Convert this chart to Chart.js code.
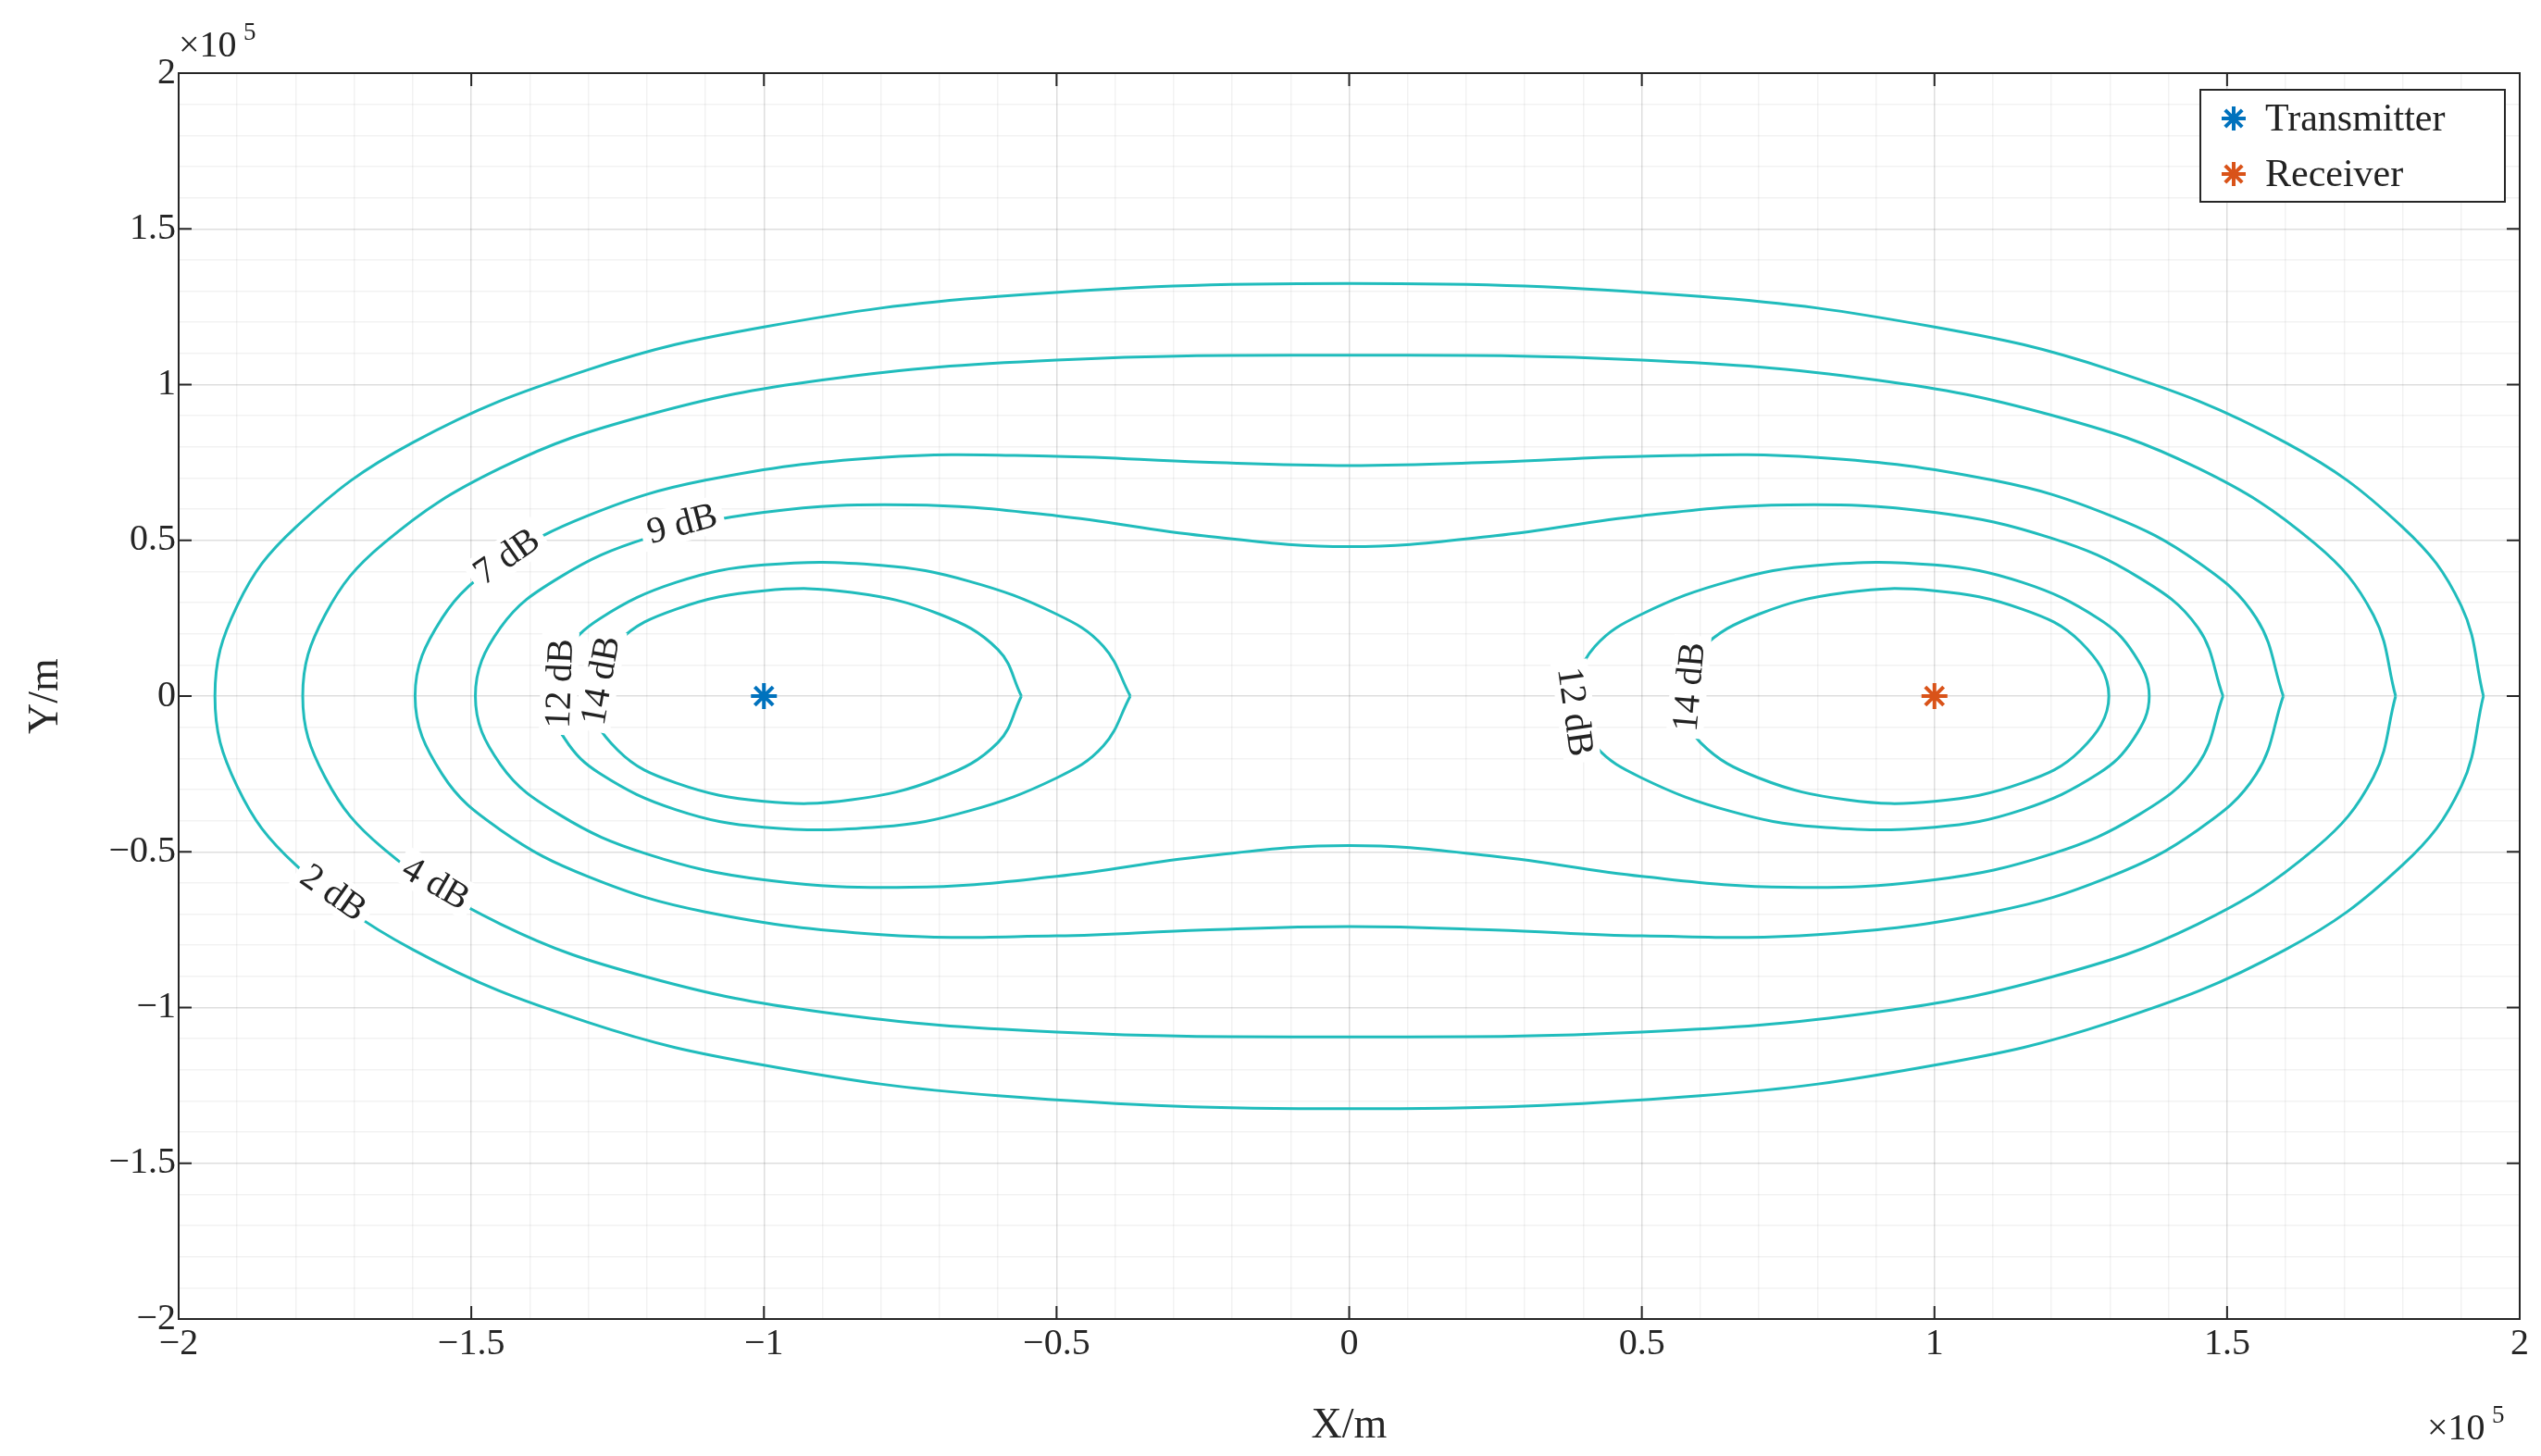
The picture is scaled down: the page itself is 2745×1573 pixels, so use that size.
<!DOCTYPE html>
<html>
<head>
<meta charset="utf-8">
<script src="https://cdn.jsdelivr.net/npm/chart.js@4.4.1/dist/chart.umd.min.js"></script>
<style>
  html, body { margin: 0; padding: 0; background: #fff; }
  #wrap { width: 2745px; height: 1573px; }
</style>
</head>
<body>
<div id="wrap"><canvas id="contourChart" width="2745" height="1573"></canvas></div>
<script>
// Values in units of 1e5 m. Upper-right half of each contour
// (outer contours: from x = xmax on the axis back to x = 0)
const c2dB_x = [1.938, 1.9, 1.8, 1.6, 1.3, 1.0, 0.6, 0];
const c2dB_y = [0, 0.29, 0.542, 0.814, 1.048, 1.185, 1.283, 1.325];
const c4dB_x = [1.788, 1.75, 1.65, 1.45, 1.2, 0.9, 0.5, 0];
const c4dB_y = [0, 0.26, 0.49, 0.732, 0.902, 1.015, 1.079, 1.094];
const c7dB_x = [1.596, 1.55, 1.45, 1.3, 1.1, 0.8, 0.5, 0.25, 0];
const c7dB_y = [0, 0.25, 0.43, 0.58, 0.693, 0.766, 0.770, 0.751, 0.740];
const c9dB_x = [1.493, 1.45, 1.35, 1.2, 1.0, 0.75, 0.5, 0.25, 0];
const c9dB_y = [0, 0.22, 0.38, 0.507, 0.59, 0.614, 0.579, 0.515, 0.48];
// inner loops around the receiver: from inner edge to outer edge
const c12dB_x = [0.374, 0.42, 0.5, 0.65, 0.8, 1.0, 1.15, 1.28, 1.34, 1.367];
const c12dB_y = [0, 0.16, 0.263, 0.369, 0.42, 0.421, 0.365, 0.249, 0.138, 0];
const c14dB_x = [0.56, 0.6, 0.7, 0.85, 1.0, 1.15, 1.25, 1.298];
const c14dB_y = [0, 0.149, 0.263, 0.333, 0.338, 0.279, 0.173, 0];

const transmitter = [{ x: -1, y: 0 }];
const receiver = [{ x: 1, y: 0 }];

const tickValues = [-2, -1.5, -1, -0.5, 0, 0.5, 1, 1.5, 2];

const contourLabels = [
  { text: '2 dB', x: -1.735, y: -0.63, rot: 35 },
  { text: '4 dB', x: -1.56, y: -0.60, rot: 30 },
  { text: '7 dB', x: -1.44, y: 0.45, rot: -35 },
  { text: '9 dB', x: -1.14, y: 0.555, rot: -15 },
  { text: '12 dB', x: -1.35, y: 0.04, rot: -88 },
  { text: '14 dB', x: -1.28, y: 0.05, rot: -80 },
  { text: '12 dB', x: 0.387, y: -0.05, rot: 82 },
  { text: '14 dB', x: 0.58, y: 0.03, rot: -85 }
];

const lineColor = '#20bcbc';
const serif = '"Liberation Serif", "DejaVu Serif", serif';

// closed curve around both foci (symmetric in x and y)
function outerLoop(xs, ys) {
  const pts = [];
  for (let i = 0; i < xs.length; i++) pts.push({ x: xs[i], y: ys[i] });
  for (let i = xs.length - 2; i >= 0; i--) pts.push({ x: -xs[i], y: ys[i] });
  for (let i = 1; i < xs.length; i++) pts.push({ x: -xs[i], y: -ys[i] });
  for (let i = xs.length - 2; i >= 0; i--) pts.push({ x: xs[i], y: -ys[i] });
  return pts;
}
// closed loop around one focus; sign = +1 right, -1 left
function innerLoop(xs, ys, sign) {
  const pts = [];
  for (let i = 0; i < xs.length; i++) pts.push({ x: sign * xs[i], y: ys[i] });
  for (let i = xs.length - 2; i >= 0; i--) pts.push({ x: sign * xs[i], y: -ys[i] });
  return pts;
}

function contourSet(data) {
  return {
    label: 'contour', data: data, showLine: true, borderColor: lineColor,
    borderWidth: 3, pointRadius: 0, tension: 0.4, fill: false
  };
}

const datasets = [
  contourSet(outerLoop(c2dB_x, c2dB_y)),
  contourSet(outerLoop(c4dB_x, c4dB_y)),
  contourSet(outerLoop(c7dB_x, c7dB_y)),
  contourSet(outerLoop(c9dB_x, c9dB_y)),
  contourSet(innerLoop(c12dB_x, c12dB_y, 1)),
  contourSet(innerLoop(c12dB_x, c12dB_y, -1)),
  contourSet(innerLoop(c14dB_x, c14dB_y, 1)),
  contourSet(innerLoop(c14dB_x, c14dB_y, -1)),
  { label: 'Transmitter', data: transmitter, pointStyle: 'star', pointRadius: 14,
    borderColor: '#0072BD', backgroundColor: '#0072BD', borderWidth: 4 },
  { label: 'Receiver', data: receiver, pointStyle: 'star', pointRadius: 14,
    borderColor: '#D95319', backgroundColor: '#D95319', borderWidth: 4 }
];

function isMajor(v) { return Math.abs(v * 2 - Math.round(v * 2)) < 1e-6; }
function fmt(v) {
  const s = (Math.round(v * 10) / 10).toString();
  return v < 0 ? '\u2212' + s.slice(1) : s;
}

const overlay = {
  id: 'overlay',
  afterDatasetsDraw(chart) {
    const c = chart.ctx, a = chart.chartArea;
    const sx = chart.scales.x, sy = chart.scales.y;
    c.save();
    // contour labels with white backing
    c.font = '40px ' + serif;
    c.textAlign = 'center';
    c.textBaseline = 'middle';
    contourLabels.forEach(l => {
      const px = sx.getPixelForValue(l.x), py = sy.getPixelForValue(l.y);
      const w = c.measureText(l.text).width + 14;
      c.save();
      c.translate(px, py);
      c.rotate(l.rot * Math.PI / 180);
      c.fillStyle = '#fff';
      c.fillRect(-w / 2, -20, w, 40);
      c.fillStyle = '#222';
      c.fillText(l.text, 0, 2);
      c.restore();
    });
    // axes box
    c.strokeStyle = '#262626';
    c.lineWidth = 2;
    c.strokeRect(a.left, a.top, a.right - a.left, a.bottom - a.top);
    // tick marks inside
    tickValues.forEach(v => {
      const px = sx.getPixelForValue(v), py = sy.getPixelForValue(v);
      c.beginPath();
      c.moveTo(px, a.bottom); c.lineTo(px, a.bottom - 14);
      c.moveTo(px, a.top); c.lineTo(px, a.top + 14);
      c.moveTo(a.left, py); c.lineTo(a.left + 14, py);
      c.moveTo(a.right, py); c.lineTo(a.right - 14, py);
      c.stroke();
    });
    // exponent labels
    c.fillStyle = '#222';
    c.textAlign = 'left';
    c.textBaseline = 'alphabetic';
    c.font = '40px ' + serif;
    c.fillText('\u00d710', a.left, a.top - 18);
    c.fillText('\u00d710', a.right - 100, a.bottom + 130);
    c.font = '27px ' + serif;
    c.fillText('5', a.left + 70, a.top - 36);
    c.fillText('5', a.right - 30, a.bottom + 112);
    // legend
    const lw = 329, lh = 121, lx = a.right - 16 - lw, ly = a.top + 18;
    c.fillStyle = '#fff';
    c.fillRect(lx, ly, lw, lh);
    c.strokeStyle = '#262626';
    c.lineWidth = 2;
    c.strokeRect(lx, ly, lw, lh);
    c.font = '42px ' + serif;
    c.textBaseline = 'middle';
    [['Transmitter', '#0072BD'], ['Receiver', '#D95319']].forEach((e, i) => {
      const yy = ly + 31 + i * 60;
      c.save();
      c.strokeStyle = e[1];
      c.lineWidth = 4;
      c.translate(lx + 36, yy);
      for (let k = 0; k < 4; k++) {
        const ang = k * Math.PI / 4;
        c.beginPath();
        c.moveTo(-13 * Math.cos(ang), -13 * Math.sin(ang));
        c.lineTo(13 * Math.cos(ang), 13 * Math.sin(ang));
        c.stroke();
      }
      c.restore();
      c.fillStyle = '#222';
      c.fillText(e[0], lx + 70, yy + 2);
    });
    c.restore();
  }
};

function gridColor(ctx) {
  const v = ctx.tick ? ctx.tick.value : 0;
  return isMajor(v) ? 'rgba(0,0,0,0.13)' : 'rgba(0,0,0,0.05)';
}

function axis(title, isY) {
  return {
    type: 'linear', min: -2, max: 2,
    ticks: {
      stepSize: 0.1, autoSkip: false, maxRotation: 0,
      color: '#262626', font: { family: serif, size: 40 },
      callback: v => isMajor(v) ? fmt(v) : ''
    },
    grid: { color: gridColor, drawTicks: false, lineWidth: 1.5 },
    border: { display: false },
    title: { display: true, text: title, color: '#262626', font: { family: serif, size: 46 }, padding: 4 },
    afterFit: s => { if (isY) s.width = 175; else s.height = 148; }
  };
}

new Chart(document.getElementById('contourChart').getContext('2d'), {
  type: 'scatter',
  data: { datasets: datasets },
  options: {
    responsive: false, animation: false,
    layout: { padding: { left: 18, right: 23, top: 79, bottom: 0 } },
    plugins: { legend: { display: false }, tooltip: { enabled: false } },
    scales: { x: axis('X/m', false), y: axis('Y/m', true) }
  },
  plugins: [overlay]
});
</script>
</body>
</html>
